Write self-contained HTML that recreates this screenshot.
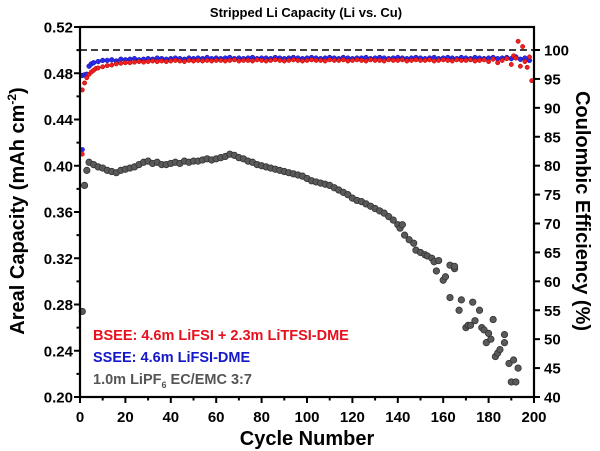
<!DOCTYPE html>
<html><head><meta charset="utf-8"><style>
html,body{margin:0;padding:0;background:#fff;}
svg{display:block;font-family:"Liberation Sans",Arial,sans-serif;font-weight:bold;}
</style></head><body>
<svg id="chart" width="600" height="451" viewBox="0 0 600 451" xmlns="http://www.w3.org/2000/svg">
<text x="306" y="17" font-size="13" text-anchor="middle">Stripped Li Capacity (Li vs. Cu)</text>
<g id="marks"></g>
<g id="axes"></g>
<text transform="translate(24,211) rotate(-90)" font-size="20" text-anchor="middle">Areal Capacity (mAh cm<tspan font-size="12" dy="-8">-2</tspan><tspan dy="8">)</tspan></text>
<text transform="translate(576,211) rotate(90)" font-size="20" text-anchor="middle">Coulombic Efficiency (%)</text>
<text x="307" y="445" font-size="20" text-anchor="middle">Cycle Number</text>
<g font-size="14.5">
<text x="93" y="340" fill="#e8101c">BSEE: 4.6m LiFSI + 2.3m LiTFSI-DME</text>
<text x="93" y="362" fill="#1418c8">SSEE: 4.6m LiFSI-DME</text>
<text x="93" y="384" fill="#555">1.0m LiPF<tspan font-size="9" dy="4">6</tspan><tspan dy="-4"> EC/EMC 3:7</tspan></text>
</g>
</svg>
<script>
// Data
const grayCycles=[1,2,3,4,6,8,10,12,14,16,18,20,22,24,26,28,30,32,34,36,38,40,42,44,46,48,50,52,54,56,58,60,62,64,66,68,70,72,74,76,78,80,82,84,86,88,90,92,94,96,98,100,102,104,106,108,110,112,114,116,118,120,122,124,126,128,130,132,134,136,138,140,141,142,143,145,147,148,150,152,153,155,156,157,158,160,161,163,163,165,165,167,168,170,171,172,173,174,176,177,178,179,180,181,182,183,184,185,187,187,189,190,191,192,193];
const grayCap=[0.274,0.383,0.396,0.403,0.401,0.399,0.398,0.396,0.395,0.394,0.396,0.397,0.398,0.399,0.401,0.403,0.404,0.402,0.403,0.401,0.401,0.402,0.403,0.402,0.404,0.403,0.404,0.404,0.405,0.406,0.405,0.406,0.407,0.408,0.410,0.409,0.407,0.406,0.404,0.403,0.401,0.400,0.399,0.398,0.397,0.396,0.395,0.394,0.393,0.392,0.391,0.389,0.387,0.386,0.385,0.384,0.383,0.381,0.379,0.377,0.375,0.372,0.370,0.369,0.367,0.365,0.363,0.361,0.359,0.356,0.353,0.349,0.346,0.349,0.340,0.336,0.333,0.327,0.325,0.323,0.322,0.320,0.317,0.309,0.318,0.301,0.304,0.314,0.286,0.311,0.313,0.275,0.284,0.260,0.262,0.262,0.282,0.266,0.275,0.260,0.258,0.247,0.255,0.250,0.267,0.235,0.238,0.241,0.254,0.247,0.229,0.213,0.232,0.213,0.225];
const blueCycles=[1,2,3,4,5,6,8,10,12,14,16,18,20,22,24,26,28,30,32,34,36,38,40,42,44,46,48,50,52,54,56,58,60,62,64,66,68,70,72,74,76,78,80,82,84,86,88,90,92,94,96,98,100,102,104,106,108,110,112,114,116,118,120,122,124,126,128,130,132,134,136,138,140,142,144,146,148,150,152,154,156,158,160,162,164,166,168,170,172,174,176,178,180,182,184,186,188,190,192,194,196,198];
const blueCE=[95.6,95.7,95.8,97.2,97.6,97.8,98.0,98.2,98.2,98.3,98.1,98.4,98.3,98.4,98.5,98.3,98.4,98.5,98.4,98.6,98.5,98.4,98.5,98.6,98.5,98.4,98.6,98.5,98.6,98.5,98.7,98.5,98.6,98.5,98.6,98.7,98.5,98.6,98.5,98.6,98.7,98.5,98.6,98.6,98.5,98.7,98.6,98.5,98.6,98.7,98.6,98.5,98.6,98.7,98.6,98.5,98.6,98.7,98.6,98.5,98.7,98.6,98.5,98.6,98.6,98.7,98.5,98.6,98.7,98.6,98.5,98.6,98.7,98.6,98.5,98.6,98.7,98.6,98.5,98.6,98.7,98.5,98.6,98.7,98.6,98.5,98.7,98.6,98.5,98.7,98.6,98.5,98.6,98.7,98.5,98.6,98.7,98.5,98.8,98.4,98.6,98.2];
const redCycles=[1,2,3,4,5,6,7,8,10,12,14,16,18,20,22,24,26,28,30,32,34,36,38,40,42,44,46,48,50,52,54,56,58,60,62,64,66,68,70,72,74,76,78,80,82,84,86,88,90,92,94,96,98,100,102,104,106,108,110,112,114,116,118,120,122,124,126,128,130,132,134,136,138,140,142,144,146,148,150,152,154,156,158,160,162,164,166,168,170,172,174,176,178,180,182,184,186,188,190,191,192,193,194,195,196,197,198,199];
const redCE=[93.1,94.3,95.2,95.8,96.2,96.5,96.8,96.9,97.1,97.3,97.4,97.6,97.7,97.8,97.8,97.9,98.0,97.9,98.0,98.1,98.0,98.1,98.0,98.1,98.2,98.1,98.0,98.2,98.1,98.2,98.1,98.2,98.1,98.2,98.2,98.1,98.2,98.3,98.1,98.2,98.2,98.1,98.3,98.2,98.1,98.2,98.3,98.2,98.1,98.2,98.3,98.2,98.1,98.2,98.3,98.2,98.2,98.1,98.3,98.2,98.2,98.3,98.1,98.2,98.3,98.2,98.1,98.3,98.2,98.2,98.1,98.3,98.2,98.2,98.3,98.1,98.2,98.3,98.2,98.2,98.3,98.1,98.2,98.3,98.2,98.1,98.3,98.2,98.2,98.3,98.1,98.2,98.3,98.0,98.4,97.8,98.2,98.5,97.5,99.0,98.6,101.5,97.2,100.6,98.0,97.0,98.8,94.7];
const xTicks=[0,20,40,60,80,100,120,140,160,180,200];
const yLeftTicks=[0.20,0.24,0.28,0.32,0.36,0.40,0.44,0.48,0.52];
const yRightTicks=[40,45,50,55,60,65,70,75,80,85,90,95,100];

const X0=80,X1=534,YB=397,YT=27;
const sx=c=>X0+(c-0)/(200-0)*(X1-X0);
const syL=v=>YB-(v-0.20)/(0.52-0.20)*(YB-YT);
const syR=v=>YB-(v-40)/(100-40)*(YB-50);
const NS="http://www.w3.org/2000/svg";
const marks=document.getElementById('marks'),axes=document.getElementById('axes');
function mk(tag,attrs,parent){const e=document.createElementNS(NS,tag);for(const k in attrs)e.setAttribute(k,attrs[k]);parent.appendChild(e);return e;}

// reference line 100%
const ref=mk('line',{x1:X0,x2:X1,y1:syR(100),y2:syR(100),stroke:'#000','stroke-width':1.6,'stroke-dasharray':'7,4'},marks);



grayCycles.forEach((c,i)=>{const e=mk('circle',{cx:sx(c),cy:syL(grayCap[i]),r:3.2,fill:'#5a5a5a',stroke:'#333','stroke-width':0.8},marks);

});
blueCycles.forEach((c,i)=>{const e=mk('circle',{cx:sx(c),cy:syR(blueCE[i]),r:2.4,fill:'#2a2ae8',stroke:'#1010a0','stroke-width':0.5},marks);

});
redCycles.forEach((c,i)=>{const e=mk('circle',{cx:sx(c),cy:syR(redCE[i]),r:2.2,fill:'#f02020',stroke:'#b00000','stroke-width':0.5},marks);

});
// first-cycle capacity points
const b1=mk('circle',{cx:sx(1),cy:syL(0.414),r:2.6,fill:'#2a2ae8'},marks);


const r1=mk('circle',{cx:sx(1),cy:syL(0.410),r:2.4,fill:'#f02020'},marks);



// frame
const fr=mk('rect',{x:X0,y:YT,width:X1-X0,height:YB-YT,fill:'none',stroke:'#000','stroke-width':2.2},axes);



xTicks.forEach(t=>{const x=sx(t);mk('line',{x1:x,x2:x,y1:YB,y2:YB+6,stroke:'#000','stroke-width':2},axes);
if(t<200){mk('line',{x1:sx(t+10),x2:sx(t+10),y1:YB,y2:YB+3.5,stroke:'#000','stroke-width':2},axes);}
const l=mk('text',{x:x,y:422,'font-size':15,'text-anchor':'middle'},axes);l.textContent=t;

});
yLeftTicks.forEach((t,i)=>{const y=syL(t);mk('line',{x1:X0-6,x2:X0,y1:y,y2:y,stroke:'#000','stroke-width':2},axes);
if(i<yLeftTicks.length-1){const ym=syL(t+0.02);mk('line',{x1:X0-3.5,x2:X0,y1:ym,y2:ym,stroke:'#000','stroke-width':2},axes);}
const l=mk('text',{x:73,y:y+5.5,'font-size':15,'text-anchor':'end'},axes);l.textContent=t.toFixed(2);

});
yRightTicks.forEach(t=>{const y=syR(t);mk('line',{x1:X1,x2:X1+6,y1:y,y2:y,stroke:'#000','stroke-width':2},axes);
const l=mk('text',{x:X1+10,y:y+5.5,'font-size':15},axes);l.textContent=t;

});
</script>
</body></html>
